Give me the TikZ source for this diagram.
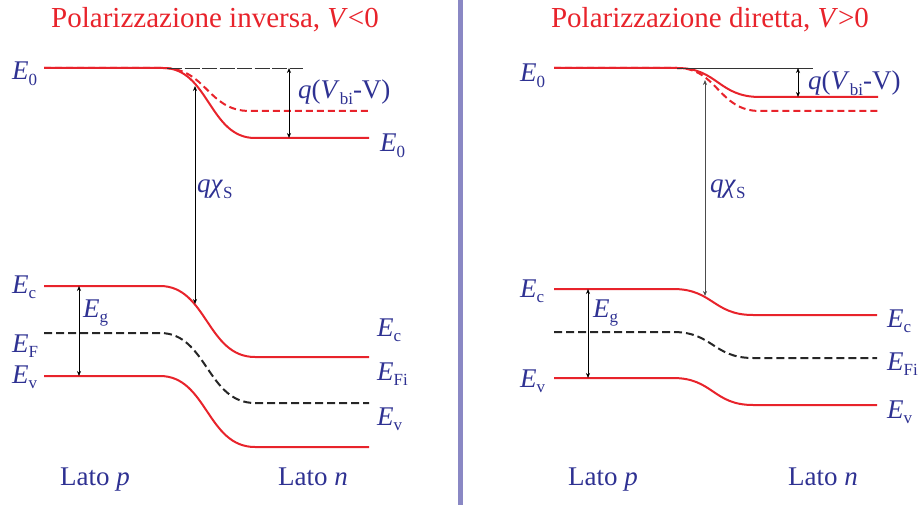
\documentclass[tikz,border=0pt]{standalone}
\usepackage{fontspec}
\setmainfont{Liberation Serif}
\usetikzlibrary{arrows.meta}
\definecolor{bandred}{HTML}{E8232B}
\definecolor{lblue}{HTML}{2E3192}
\definecolor{divider}{HTML}{8A88C4}
\newcommand\sbs[1]{\raisebox{-0.2em}{\fontsize{17}{17}\selectfont #1}}
\newcommand\EE[1]{\textit{E}\sbs{#1}}
\begin{document}
\begin{tikzpicture}[x=1pt,y=-1pt,
 band/.style={draw=bandred, line width=2pt},
 bandd/.style={draw=bandred, line width=2pt, dash pattern=on 7pt off 4pt},
 fermi/.style={draw=black!85, line width=2pt, dash pattern=on 8pt off 4pt},
 dim/.style={draw=black, line width=0.7pt, {Stealth[length=5pt,width=4pt]}-{Stealth[length=5pt,width=4pt]}},
 refl/.style={draw=black!80, line width=0.6pt},
 lbl/.style={text=lblue, font=\fontsize{27}{30}\selectfont, inner sep=0pt, anchor=base west},
 ttl/.style={text=bandred, font=\fontsize{29}{32}\selectfont, inner sep=0pt, anchor=base},
]
\useasboundingbox (0,0) rectangle (920,505);
% divider
\draw[divider, line width=5pt] (460,0) -- (460,505);

% ---------------- left panel ----------------
\node[ttl] (tL) at (215,28) {Polarizzazione inversa, \textit{V}<0};
\draw[bandd] (44,68) -- (163,68) .. controls (207,68) and (207,111) .. (250,111) -- (369,111);
\draw[band] (44,68) -- (163,68) .. controls (209,68) and (209,138) .. (255,138) -- (369,138);
\draw[refl, dash pattern=on 15pt off 2.5pt] (167,68) -- (303,68);
\draw[band] (44,286) -- (160,286) .. controls (207,286) and (207,357) .. (255,357) -- (369,357);
\draw[fermi] (44,333) -- (160,333) .. controls (207,333) and (207,403) .. (255,403) -- (369,403);
\draw[band] (44,376) -- (160,376) .. controls (207,376) and (207,447) .. (255,447) -- (369,447);

\coordinate (qvLt) at (289,68);
\coordinate (qvLb) at (289,138);
\coordinate (chiLt) at (195,86);
\coordinate (chiLb) at (195,304);
\coordinate (egLt) at (79,286);
\coordinate (egLb) at (79,376);
\draw[dim] (qvLt) -- (qvLb);
\draw[dim] (chiLt) -- (chiLb);
\draw[dim] (egLt) -- (egLb);

\node[lbl] (e0L) at (12,80) {\EE{0}};
\node[lbl] (qvL) at (298,99) {\textit{q}(\textit{V}\sbs{bi}-V)};
\node[lbl] (e0Lr) at (380,152) {\EE{0}};
\node[lbl] (chiL) at (197,193) {\textit{qχ}\sbs{S}};
\node[lbl] (ecL) at (12,293) {\EE{c}};
\node[lbl] (egL) at (83,317) {\EE{g}};
\node[lbl] (efL) at (12,352) {\EE{F}};
\node[lbl] (evL) at (12,383) {\EE{v}};
\node[lbl] (ecLr) at (377,336) {\EE{c}};
\node[lbl] (efiLr) at (377,380) {\EE{Fi}};
\node[lbl] (evLr) at (377,425) {\EE{v}};
\node[lbl] (lpL) at (60,485) {Lato \textit{p}};
\node[lbl] (lnL) at (278,485) {Lato \textit{n}};

% ---------------- right panel ----------------
\node[ttl] (tR) at (710,28) {Polarizzazione diretta, \textit{V}>0};
\draw[bandd] (554,68) -- (677,68) .. controls (718,68) and (718,111) .. (760,111) -- (880,111);
\draw[band] (554,68) -- (677,68) .. controls (718,68) and (718,97) .. (760,97) -- (878,97);
\draw[refl] (677,68) -- (813,68);
\draw[band] (554,289) -- (673,289) .. controls (713,289) and (713,315) .. (753,315) -- (877,315);
\draw[fermi] (554,332) -- (673,332) .. controls (713,332) and (713,358) .. (753,358) -- (877,358);
\draw[band] (554,378) -- (673,378) .. controls (713,378) and (713,405) .. (753,405) -- (877,405);

\coordinate (qvRt) at (798,68);
\coordinate (qvRb) at (798,97);
\coordinate (chiRt) at (705,80);
\coordinate (chiRb) at (705,296);
\coordinate (egRt) at (588,289);
\coordinate (egRb) at (588,378);
\draw[dim] (qvRt) -- (qvRb);
\draw[dim, draw=black!70] (chiRt) -- (chiRb);
\draw[dim] (egRt) -- (egRb);

\node[lbl] (e0R) at (520,82) {\EE{0}};
\node[lbl] (qvR) at (808,90) {\textit{q}(\textit{V}\sbs{bi}-V)};
\node[lbl] (chiR) at (710,193) {\textit{qχ}\sbs{S}};
\node[lbl] (ecR) at (520,297) {\EE{c}};
\node[lbl] (egR) at (593,317) {\EE{g}};
\node[lbl] (evR) at (520,387) {\EE{v}};
\node[lbl] (ecRr) at (887,327) {\EE{c}};
\node[lbl] (efiRr) at (887,370) {\EE{Fi}};
\node[lbl] (evRr) at (887,418) {\EE{v}};
\node[lbl] (lpR) at (568,485) {Lato \textit{p}};
\node[lbl] (lnR) at (788,485) {Lato \textit{n}};
\end{tikzpicture}
\end{document}
